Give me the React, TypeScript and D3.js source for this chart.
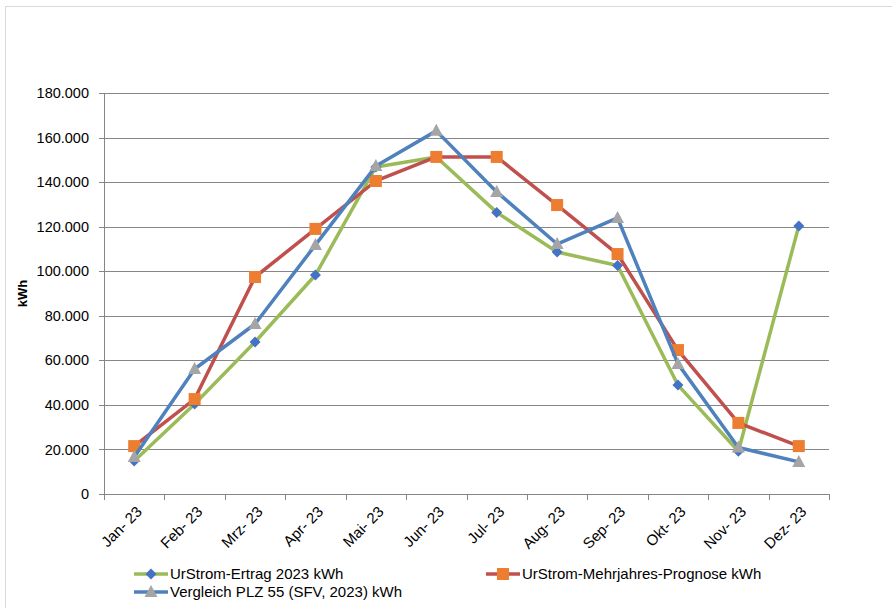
import * as d3 from 'd3';

const months = ['Jan- 23', 'Feb- 23', 'Mrz- 23', 'Apr- 23', 'Mai- 23', 'Jun- 23', 'Jul- 23', 'Aug- 23', 'Sep- 23', 'Okt- 23', 'Nov- 23', 'Dez- 23'];
const ertrag = [14800, 40400, 68200, 98300, 146800, 151300, 126400, 108600, 102600, 48900, 19200, 120300];
const prognose = [21500, 42600, 97400, 119000, 140500, 151300, 151300, 129700, 107700, 64600, 31900, 21500];
const vergleich = [16600, 56100, 76300, 111800, 147200, 163000, 135600, 112200, 123900, 58400, 20900, 14400];
const yTicks = [0, 20000, 40000, 60000, 80000, 100000, 120000, 140000, 160000, 180000];

const font = "'Liberation Sans', Arial, sans-serif";

const series = [
  { name: 'UrStrom-Ertrag 2023 kWh', values: ertrag, line: '#9BBB59', marker: '#4472C4', shape: 'diamond' },
  { name: 'UrStrom-Mehrjahres-Prognose kWh', values: prognose, line: '#C0504D', marker: '#ED7D31', shape: 'square' },
  { name: 'Vergleich PLZ 55 (SFV, 2023) kWh', values: vergleich, line: '#4F81BD', marker: '#A5A5A5', shape: 'triangle' },
];

const Marker = ({ shape, x, y, color }: { shape: string; x: number; y: number; color: string }) => {
  if (shape === 'diamond') {
    return <path d={`M${x},${y - 5.5}L${x + 5.5},${y}L${x},${y + 5.5}L${x - 5.5},${y}Z`} fill={color} />;
  }
  if (shape === 'square') {
    return <rect x={x - 6} y={y - 6} width={12} height={12} fill={color} />;
  }
  return <path d={`M${x},${y - 7}L${x + 6.5},${y + 5}L${x - 6.5},${y + 5}Z`} fill={color} />;
};

export default function App() {
  const left = 104;
  const right = 829;
  const top = 93;
  const bottom = 494;

  const x = d3.scaleBand<string>().domain(months).range([left, right]);
  const cx = (m: string) => (x(m) as number) + x.bandwidth() / 2;
  const y = d3.scaleLinear().domain([0, 180000]).range([bottom, top]);
  const fmt = (v: number) => (v === 0 ? '0' : d3.format(',')(v).replace(/,/g, '.'));

  const line = d3
    .line<number>()
    .x((_, i) => cx(months[i]))
    .y((d) => y(d));

  const legendItems = [
    { s: series[0], lx: 134, ly: 574 },
    { s: series[1], lx: 486, ly: 574 },
    { s: series[2], lx: 134, ly: 592 },
  ];

  return (
    <svg width={892} height={608} style={{ position: 'absolute', left: 0, top: 0, background: '#fff' }}>
      <rect x={5.5} y={6.5} width={900} height={620} fill="#fff" stroke="#D9D9D9" strokeWidth={1} />

      {/* gridlines */}
      {yTicks.map((t) => (
        <line key={t} x1={left - 5} x2={right} y1={Math.round(y(t)) + 0.5} y2={Math.round(y(t)) + 0.5} stroke="#868686" strokeWidth={1} />
      ))}
      {yTicks.map((t) => (
        <text key={'l' + t} x={89} y={y(t)} dy="0.35em" textAnchor="end" fontFamily={font} fontSize={14.5} fill="#000">
          {fmt(t)}
        </text>
      ))}

      {/* axes */}
      <line x1={left + 0.5} x2={left + 0.5} y1={top} y2={bottom} stroke="#868686" />
      {months.concat(['end']).map((m, i) => {
        const tx = Math.round(left + i * x.bandwidth()) + 0.5;
        return <line key={'t' + i} x1={tx} x2={tx} y1={bottom} y2={bottom + 6} stroke="#868686" />;
      })}

      {months.map((m) => (
        <text
          key={m}
          transform={`translate(${cx(m) + 5},${bottom + 15}) rotate(-45)`}
          textAnchor="end"
          dy="0.35em"
          fontFamily={font}
          fontSize={15}
          fill="#000"
        >
          {m}
        </text>
      ))}

      <text transform={`translate(22,${(top + bottom) / 2}) rotate(-90)`} textAnchor="middle" dy="0.35em" fontFamily={font} fontSize={13} fontWeight="bold">
        kWh
      </text>

      {/* series */}
      {series.map((s) => (
        <g key={s.name}>
          <path d={line(s.values) as string} fill="none" stroke={s.line} strokeWidth={3.5} strokeLinejoin="round" />
          {s.values.map((v, i) => (
            <Marker key={i} shape={s.shape} x={cx(months[i])} y={y(v)} color={s.marker} />
          ))}
        </g>
      ))}

      {/* legend */}
      {legendItems.map(({ s, lx, ly }) => (
        <g key={'lg' + s.name}>
          <line x1={lx} x2={lx + 34} y1={ly} y2={ly} stroke={s.line} strokeWidth={3.5} />
          <Marker shape={s.shape} x={lx + 17} y={ly} color={s.marker} />
          <text x={lx + 36} y={ly} dy="0.35em" fontFamily={font} fontSize={15} fill="#000">
            {s.name}
          </text>
        </g>
      ))}
    </svg>
  );
}
